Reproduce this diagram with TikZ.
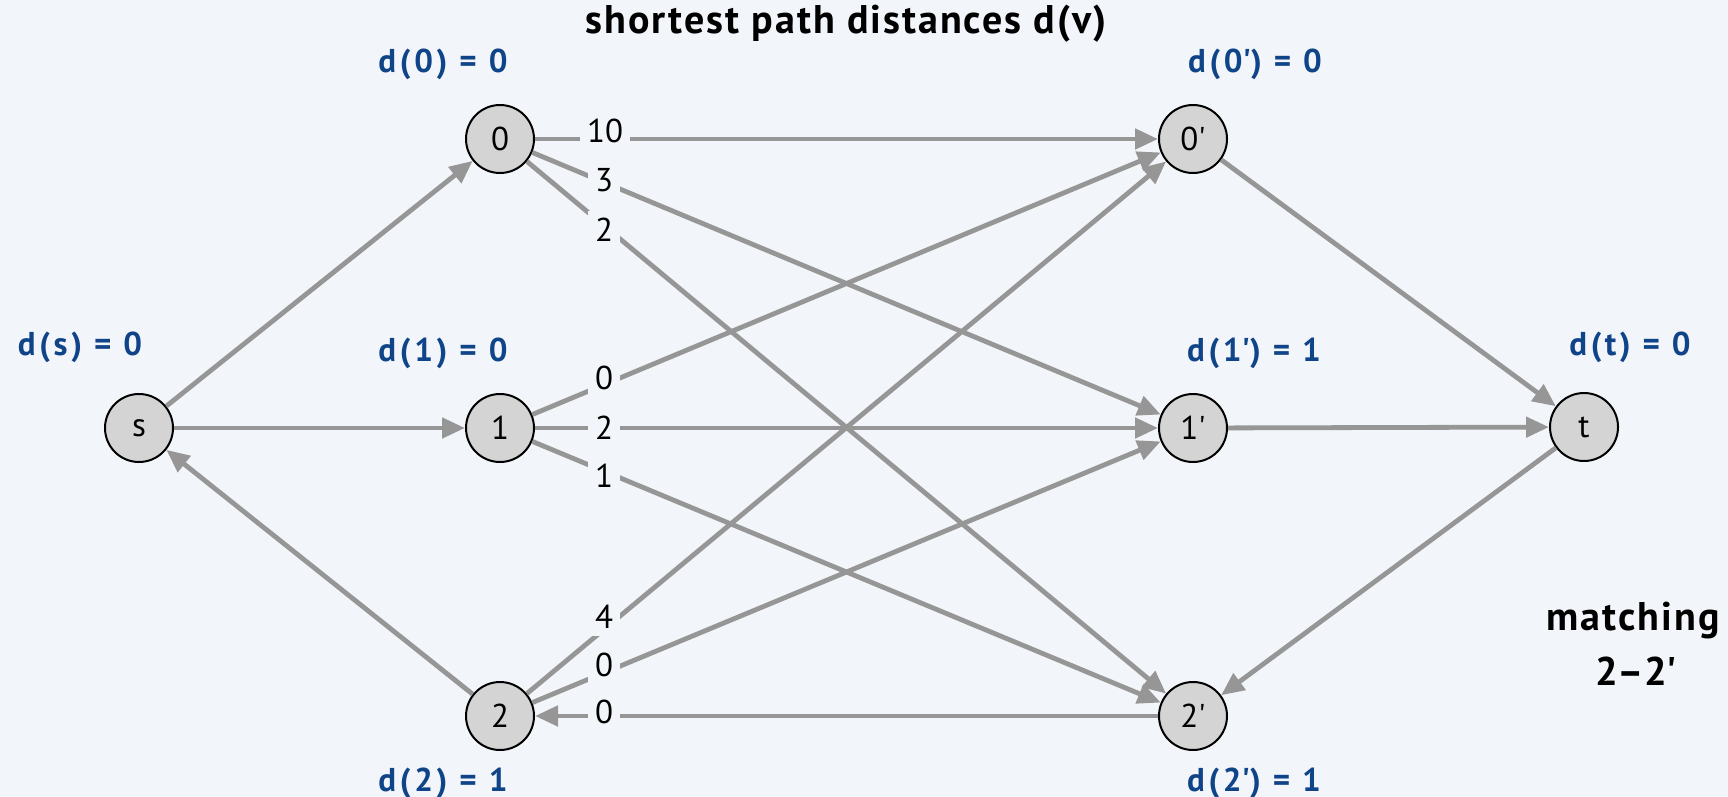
\documentclass[tikz,border=0pt]{standalone}
\usepackage{fontspec}
\setmainfont{PT Sans}
\usetikzlibrary{arrows.meta}

\definecolor{bg}{HTML}{F2F5F9}
\definecolor{edgegray}{HTML}{969696}
\definecolor{vfill}{HTML}{D4D4D4}
\definecolor{distblue}{HTML}{0F4488}
\newcommand{\pr}{\textquotesingle}

\begin{document}
\begin{tikzpicture}[x=1pt,y=-1pt,
  vertex/.style={circle, draw=black, line width=2pt, fill=vfill,
    minimum size=68pt, inner sep=0pt, font=\fontsize{33}{40}\selectfont},
  arc/.style={draw=edgegray, line width=4.8pt, -{Triangle[length=23pt,width=20pt]}},
  wt/.style={fill=bg, inner sep=7pt, font=\fontsize{33}{40}\selectfont},
  dist/.style={text=distblue, inner sep=0pt,
    font=\bfseries\fontsize{33}{40}\selectfont\addfontfeatures{LetterSpace=11}},
  heading/.style={inner sep=0pt,
    font=\bfseries\fontsize{40}{48}\selectfont\addfontfeatures{LetterSpace=5}},
  plainheading/.style={inner sep=0pt, font=\bfseries\fontsize{40}{48}\selectfont}]

% canvas
\fill[bg] (0,0) rectangle (1728,797);
\useasboundingbox (0,0) rectangle (1728,797);

% vertices
\node[vertex] (s)  at (139,428)  {s};
\node[vertex] (v0) at (500,139)  {0};
\node[vertex] (v1) at (500,428)  {1};
\node[vertex] (v2) at (500,716)  {2};
\node[vertex] (w0) at (1193,139) {0\pr};
\node[vertex] (w1) at (1193,428) {1\pr};
\node[vertex] (w2) at (1193,716) {2\pr};
\node[vertex] (t)  at (1584,427) {t};

% residual arcs
\draw[arc] (s) -- (v0);
\draw[arc] (s) -- (v1);
\draw[arc] (v2) -- (s);
\draw[arc] (v0) -- (w0);
\draw[arc] (v0) -- (w1);
\draw[arc] (v0) -- (w2);
\draw[arc] (v1) -- (w0);
\draw[arc] (v1) -- (w1);
\draw[arc] (v1) -- (w2);
\draw[arc] (v2) -- (w0);
\draw[arc] (v2) -- (w1);
\draw[arc] (w2) -- (v2);
\draw[arc] (w0) -- (t);
\draw[arc] (w1) -- (t);
\draw[arc] (t) -- (w2);

% reduced costs
\node[wt] (c00) at (605,131) {10};
\node[wt] (c01) at (604,180) {3};
\node[wt] (c02) at (604,230) {2};
\node[wt] (c10) at (604,378) {0};
\node[wt] (c11) at (604,428) {2};
\node[wt] (c12) at (604,476) {1};
\node[wt] (c20) at (604,617) {4};
\node[wt] (c21) at (604,665) {0};
\node[wt] (c22) at (604,712) {0};

% distances
\node[dist] (ds)  at (80,347)   {d(s) = 0};
\node[dist] (d0)  at (443,64)   {d(0) = 0};
\node[dist] (d1)  at (443,353)  {d(1) = 0};
\node[dist] (d2)  at (443,783)  {d(2) = 1};
\node[dist] (e0)  at (1255,64)  {d(0\pr) = 0};
\node[dist] (e1)  at (1254,353) {d(1\pr) = 1};
\node[dist] (e2)  at (1254,783) {d(2\pr) = 1};
\node[dist] (dt)  at (1630,347) {d(t) = 0};

% captions
\node[heading] (title) at (846,24) {shortest path distances d(v)};
\node[heading] (match) at (1633,621) {matching};
\node[plainheading] (pair) at (1636,671) {2–2\pr};
\end{tikzpicture}
\end{document}
